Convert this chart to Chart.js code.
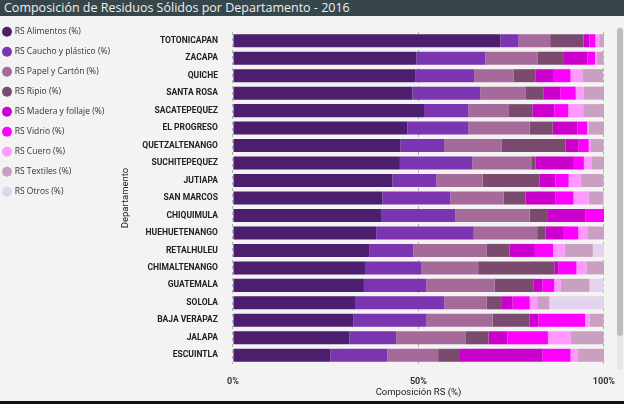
<!DOCTYPE html>
<html>
<head>
<meta charset="utf-8">
<script src="https://cdn.jsdelivr.net/npm/chart.js@4"></script>
<style>
    html, body { margin: 0; padding: 0; background: #f3f3f3; }
    body { width: 624px; height: 404px; position: relative; overflow: hidden; }
    .title-bar {
        position: absolute; left: 0; top: 0; width: 624px; height: 16px;
        background: #36464b; color: #f0f0f0;
        font-family: "Open Sans", "Noto Sans", sans-serif; font-size: 12.5px;
        line-height: 16px; padding-left: 4px; box-sizing: border-box;
    }
    .chart-box { position: absolute; left: 0; top: 16px; width: 627px; height: 384px; }
    .scroll-track { position: absolute; left: 617px; top: 27px; width: 6px; height: 343px; background: #e6e6e6; border-radius: 3px; }
    .scroll-thumb { position: absolute; left: 617px; top: 28px; width: 6px; height: 308px; background: #bdbdbd; border-radius: 3px; }
    .bottom-line { position: absolute; left: 0; top: 401px; width: 624px; height: 3px; background: #111; }
</style>
</head>
<body>
<div class="title-bar">Composición de Residuos Sólidos por Departamento - 2016</div>
<div class="chart-box"><canvas id="wasteChart"></canvas></div>
<div class="scroll-track"></div>
<div class="scroll-thumb"></div>
<div class="bottom-line"></div>
<script>
const departamentos = ['TOTONICAPAN', 'ZACAPA', 'QUICHE', 'SANTA ROSA', 'SACATEPEQUEZ', 'EL PROGRESO',
    'QUETZALTENANGO', 'SUCHITEPEQUEZ', 'JUTIAPA', 'SAN MARCOS', 'CHIQUIMULA', 'HUEHUETENANGO',
    'RETALHULEU', 'CHIMALTENANGO', 'GUATEMALA', 'SOLOLA', 'BAJA VERAPAZ', 'JALAPA', 'ESCUINTLA'];

const alimentos = [72.1, 49.5, 49.1, 48.4, 51.5, 47.0, 45.2, 45.0, 43.0, 40.3, 39.9, 38.6, 36.7, 35.6, 35.3, 32.9, 32.4, 31.4, 26.3];
const caucho    = [4.9, 18.5, 15.9, 18.3, 12.0, 16.5, 11.7, 19.5, 11.8, 18.3, 20.1, 26.3, 11.9, 15.1, 16.8, 24.1, 19.8, 12.6, 15.3];
const papel     = [8.5, 14.2, 10.6, 12.1, 10.9, 16.5, 15.6, 15.9, 12.5, 14.4, 20.0, 17.1, 19.7, 15.4, 18.4, 11.4, 17.8, 18.8, 13.7];
const ripio     = [9.0, 6.8, 5.9, 5.0, 6.3, 6.2, 17.1, 1.2, 15.4, 5.9, 4.9, 2.3, 6.3, 20.5, 10.6, 4.1, 9.9, 6.1, 5.9];
const madera    = [1.6, 6.5, 5.0, 4.4, 5.9, 6.6, 3.6, 10.3, 4.2, 8.1, 10.2, 4.9, 6.8, 1.2, 2.3, 2.9, 2.4, 5.1, 22.3];
const vidrio    = [1.6, 2.1, 4.5, 4.2, 3.8, 2.7, 2.7, 2.7, 3.6, 4.8, 5.0, 3.9, 4.9, 4.8, 3.2, 4.6, 12.6, 10.9, 7.5];
const cuero     = [1.0, 0.5, 3.2, 2.1, 4.0, 0.3, 0.6, 2.0, 3.3, 4.1, 0, 2.4, 3.1, 2.7, 1.8, 2.0, 1.2, 6.2, 2.0];
const textiles  = [1.3, 1.8, 5.6, 5.6, 5.6, 4.2, 3.4, 3.4, 6.1, 3.9, 0, 4.5, 7.6, 4.7, 7.7, 3.3, 3.8, 8.8, 7.0];
const otros     = [0, 0, 0, 0, 0, 0, 0, 0, 0, 0.3, 0, 0, 3.2, 0, 3.8, 14.7, 0, 0, 0];

const seriesLabels = ['RS Alimentos (%)', 'RS Caucho y plástico (%)', 'RS Papel y Cartón (%)', 'RS Ripio (%)',
    'RS Madera y follaje (%)', 'RS Vidrio (%)', 'RS Cuero (%)', 'RS Textiles (%)', 'RS Otros (%)'];
const seriesData = [alimentos, caucho, papel, ripio, madera, vidrio, cuero, textiles, otros];
const seriesColors = ['#4b1f6e', '#7b35b1', '#a66a9a', '#7a4b6e', '#cc00cc', '#ff00ff', '#ff99ff', '#c9a0c2', '#e4d3ef'];

const xTicks = [0, 50, 100];

const ctx = document.getElementById('wasteChart');
new Chart(ctx, {
    type: 'bar',
    data: {
        labels: departamentos,
        datasets: seriesData.map((d, i) => ({
            label: seriesLabels[i],
            data: d,
            backgroundColor: seriesColors[i],
            borderWidth: 0,
            barPercentage: 0.76,
            categoryPercentage: 0.98
        }))
    },
    options: {
        indexAxis: 'y',
        responsive: true,
        maintainAspectRatio: false,
        animation: false,
        layout: { padding: { top: 0, right: 0, left: -8, bottom: 2 } },
        plugins: {
            legend: {
                position: 'left',
                align: 'start',
                labels: {
                    usePointStyle: true,
                    pointStyle: 'circle',
                    boxWidth: 7,
                    boxHeight: 7,
                    padding: 11.5,
                    color: '#333',
                    font: { family: '"Open Sans", "Noto Sans", sans-serif', size: 8.5 }
                }
            },
            tooltip: { enabled: false }
        },
        scales: {
            x: {
                stacked: true,
                min: 0,
                max: 100,
                afterBuildTicks: (axis) => { axis.ticks = xTicks.map(v => ({ value: v })); },
                afterFit: (scale) => { scale.height = 34; },
                ticks: {
                    callback: (value) => value + '%',
                    color: '#333',
                    padding: 12,
                    font: { family: 'Roboto, sans-serif', size: 9, weight: 'bold' },
                    maxRotation: 0
                },
                grid: { color: '#b0b0b0', lineWidth: 1, drawTicks: false },
                border: { display: false, dash: [3, 3] },
                title: {
                    display: true,
                    text: 'Composición RS (%)',
                    color: '#222',
                    font: { family: 'Roboto, sans-serif', size: 9.5 },
                    padding: { top: 1, bottom: 0 }
                }
            },
            // empty strip on top so the bars start below the legend's first row
            xTop: {
                type: 'linear',
                position: 'top',
                display: true,
                min: 0,
                max: 100,
                ticks: { display: false },
                grid: { display: false, drawTicks: false },
                border: { display: false },
                afterFit: (scale) => { scale.height = 16; }
            },
            y: {
                stacked: true,
                afterFit: (scale) => { scale.width = 113; },
                ticks: {
                    color: '#222',
                    padding: 7,
                    font: { family: 'Roboto, sans-serif', size: 8.5, weight: 'bold' }
                },
                grid: { display: false },
                border: { display: false },
                title: {
                    display: true,
                    text: 'Departamento',
                    color: '#222',
                    font: { family: 'Roboto, sans-serif', size: 9.5 },
                    padding: { top: 0, bottom: 4 }
                }
            }
        }
    }
});
</script>
</body>
</html>
